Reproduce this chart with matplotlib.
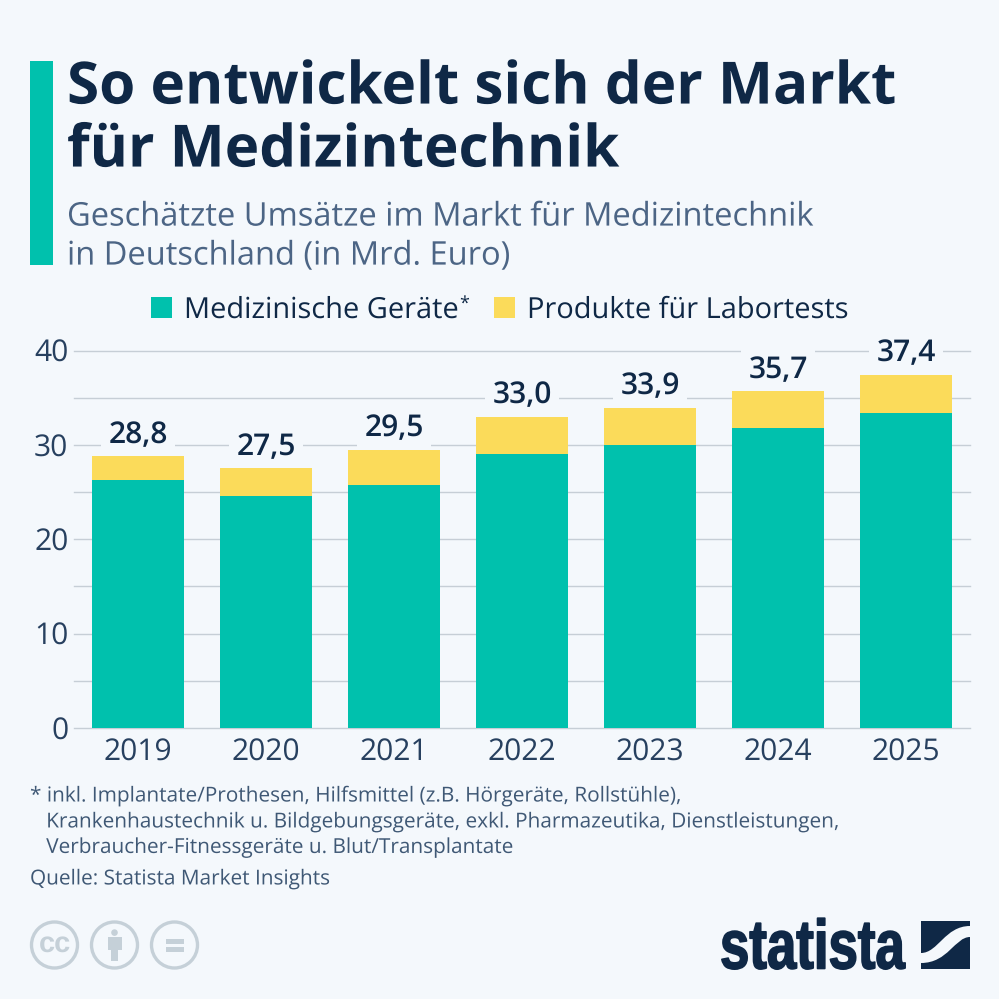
import matplotlib
matplotlib.use("Agg")
import matplotlib.pyplot as plt
import matplotlib.patheffects as pe
from matplotlib.patches import Rectangle, Circle, PathPatch
from matplotlib.path import Path
from matplotlib.transforms import Affine2D

years = ["2019", "2020", "2021", "2022", "2023", "2024", "2025"]
geraete = [26.3, 24.6, 25.8, 29.0, 30.0, 31.8, 33.4]
labor = [2.5, 2.9, 3.7, 4.0, 3.9, 3.9, 4.0]
totals = ["28,8", "27,5", "29,5", "33,0", "33,9", "35,7", "37,4"]
yticks = [0, 10, 20, 30, 40]
grid_values = [0, 5, 10, 15, 20, 25, 30, 35, 40]

BG = "#f4f8fc"
TEAL = "#00c1ad"
YELLOW = "#fbdb5a"
NAVY = "#0f2846"
SUB = "#4c6585"
GREY = "#c5d0d8"
FOOT = "#3f5875"

plt.rcParams["font.family"] = ["Open Sans", "DejaVu Sans"]
plt.rcParams["text.hinting"] = "none"
plt.rcParams["text.hinting_factor"] = 1

fig = plt.figure(figsize=(9.99, 9.99), dpi=100, facecolor=BG)
W = H = 999


def ax_rect(left, top, right, bottom):
    return [left / W, 1 - bottom / H, (right - left) / W, (bottom - top) / H]


class Squeeze(pe.AbstractPathEffect):
    # scales a text horizontally around x0 (display px), font sizes snap to whole pixels
    def __init__(self, x0, sx, stroke=0):
        super().__init__()
        self.x0, self.sx, self.stroke = x0, sx, stroke

    def draw_path(self, renderer, gc, tpath, affine, rgbFace):
        squeeze = Affine2D().translate(-self.x0, 0).scale(self.sx, 1).translate(self.x0, 0)
        gc2 = renderer.new_gc()
        gc2.copy_properties(gc)
        gc2.set_linewidth(self.stroke)
        gc2.set_foreground(rgbFace)
        renderer.draw_path(gc2, tpath, affine + squeeze, rgbFace)
        gc2.restore()


# chart
ax = fig.add_axes(ax_rect(74, 350.5, 970, 728))
ax.set_facecolor("none")
ax.set_xlim(-0.5, 6.5)
ax.set_ylim(0, 40)
for g in grid_values:
    ax.axhline(g, color="#c6ced6", lw=1.0, zorder=1, clip_on=False)
xs = range(len(years))
ax.bar(xs, geraete, width=0.72, color=TEAL, zorder=4)
ax.bar(xs, labor, width=0.72, bottom=geraete, color=YELLOW, zorder=4)
for x, g, l, t in zip(xs, geraete, labor, totals):
    ax.annotate(t, (x, g + l), xytext=(0, 4.5), textcoords="offset points",
                ha="center", va="bottom", fontsize=21.4, fontweight="semibold", color=NAVY, zorder=3,
                bbox=dict(boxstyle="square,pad=0.25", fc=BG, ec="none"))
for s in ax.spines.values():
    s.set_visible(False)
ax.set_xticks(list(xs))
ax.set_xticklabels(years)
ax.set_yticks(yticks)
ax.tick_params(axis="both", length=0, labelsize=21.3, labelcolor="#27405f")
ax.tick_params(axis="x", pad=7)
ax.tick_params(axis="y", pad=4)

# overlay in pixel coordinates for header, footer and logos
ov = fig.add_axes([0, 0, 1, 1], zorder=5)
ov.set_xlim(0, W)
ov.set_ylim(H, 0)
ov.axis("off")

ov.add_patch(Rectangle((30, 61), 23, 204, color=TEAL, lw=0))
title_fx = [Squeeze(67, 1.001)]
sub_fx = [Squeeze(67, 1.0)]
foot_fx = [Squeeze(30, 1.009)]
ov.text(67, 88.5, "So entwickelt sich der Markt", fontsize=42, fontweight="bold", color=NAVY, va="center",
        path_effects=title_fx)
ov.text(67, 151.5, "für Medizintechnik", fontsize=42, fontweight="bold", color=NAVY, va="center",
        path_effects=title_fx)
ov.text(67, 217, "Geschätzte Umsätze im Markt für Medizintechnik", fontsize=23.5, color=SUB, va="center",
        path_effects=sub_fx)
ov.text(67, 256, "in Deutschland (in Mrd. Euro)", fontsize=23.5, color=SUB, va="center",
        path_effects=sub_fx)

# legend
ov.add_patch(Rectangle((151, 297), 21, 21, color=TEAL, lw=0))
ov.text(184, 310, "Medizinische Geräte", fontsize=20.9, color=NAVY, va="center")
ov.text(459, 305, "*", fontsize=13, color=NAVY, va="center")
ov.add_patch(Rectangle((494, 297), 21, 21, color=YELLOW, lw=0))
ov.text(527, 310, "Produkte für Labortests", fontsize=20.9, color=NAVY, va="center")

# footnote
foot = ["* inkl. Implantate/Prothesen, Hilfsmittel (z.B. Hörgeräte, Rollstühle),",
        "   Krankenhaustechnik u. Bildgebungsgeräte, exkl. Pharmazeutika, Dienstleistungen,",
        "   Verbraucher-Fitnessgeräte u. Blut/Transplantate"]
for y, line in zip([796, 822, 847.5], foot):
    ov.text(30, y, line, fontsize=14.83, color=FOOT, va="center", path_effects=foot_fx)
ov.text(30, 879, "Quelle: Statista Market Insights", fontsize=14.83, color=FOOT, va="center", path_effects=foot_fx)

# cc icons
for cx in [54.5, 114.5, 174.5]:
    ov.add_patch(Circle((cx, 945), 23, fc="none", ec=GREY, lw=2.4))
ov.text(54.5, 944, "cc", fontsize=21, fontweight="bold", color=GREY, ha="center", va="center",
        family=["Liberation Sans", "DejaVu Sans"])
ov.add_patch(Circle((114.5, 932.6), 3.3, color=GREY, lw=0))
ov.add_patch(Rectangle((107.5, 937), 14, 13, color=GREY, lw=0))
ov.add_patch(Rectangle((110.7, 950), 7.6, 11, color=GREY, lw=0))
ov.add_patch(Rectangle((165.7, 939.3), 18.3, 5, color=GREY, lw=0))
ov.add_patch(Rectangle((165.7, 947.3), 18.3, 5, color=GREY, lw=0))

# statista logo
ov.text(720, 968.5, "statista", fontsize=50, fontweight="bold", color=NAVY, va="baseline",
        family=["Liberation Sans", "DejaVu Sans"],
        path_effects=[Squeeze(720, 0.76, 1.2)])
ov.add_patch(Rectangle((921, 921), 49, 48, color=NAVY, lw=0))
swoosh = Path([(921, 953), (938, 953), (945, 926), (970, 926),
               (970, 937), (955, 937), (948, 963), (921, 963), (921, 953)],
              [Path.MOVETO, Path.CURVE4, Path.CURVE4, Path.CURVE4,
               Path.LINETO, Path.CURVE4, Path.CURVE4, Path.CURVE4, Path.CLOSEPOLY])
ov.add_patch(PathPatch(swoosh, fc=BG, ec="none"))

fig.savefig("out.png", dpi=100, facecolor=BG)
